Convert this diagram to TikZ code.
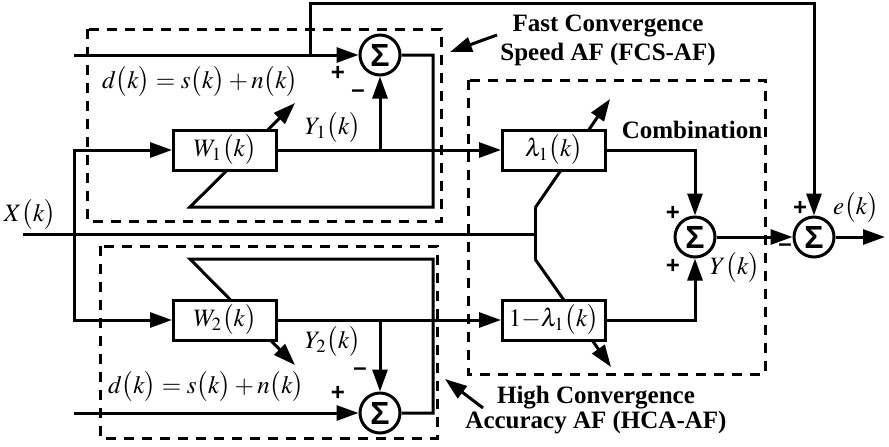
\documentclass[tikz,border=0pt]{standalone}
\usepackage{mathptmx}
\usepackage{fontspec}
\setmainfont{Liberation Serif}
\setsansfont{Liberation Sans}
\usetikzlibrary{positioning,arrows.meta}

\pgfdeclarelayer{wires}
\pgfsetlayers{wires,main}

\tikzset{
  block/.style={draw, fill=white, minimum width=51.5pt, minimum height=20pt, inner sep=0pt},
  adder/.style={circle, draw, fill=white, minimum size=20pt, inner sep=0pt,
                font=\fontsize{16}{16}\selectfont\sffamily\bfseries},
  sgn/.style={inner sep=0pt, font=\fontsize{12}{12}\selectfont\sffamily\bfseries},
  group/.style={draw, dash pattern=on 5pt off 4pt},
  tag/.style={inner sep=0pt, align=center, font=\fontsize{12.5}{14.5}\selectfont\bfseries},
}

\begin{document}
\begin{tikzpicture}[x=0.5pt, y=-0.5pt, line width=1.5pt,
    >={Triangle[length=11pt,width=7.5pt]}, node distance=63.5pt and 111.5pt,
    font=\fontsize{12.5}{15}\selectfont]
  \useasboundingbox (0,0) rectangle (889,446);

  % filters and combiner
  \node[block] (W1) at (225,150)    {$W_1\big(k\big)$};
  \node[block] (W2) [below=of W1]   {$W_2\big(k\big)$};
  \node[block] (L1) [right=of W1]   {$\lambda_1\big(k\big)$};
  \node[block] (L2) [right=of W2]   {$1{-}\lambda_1\big(k\big)$};

  \node[adder] (sA) at (380,55)  {Σ};
  \node[adder] (sB) at (380,413) {Σ};
  \node[adder] (sY) at (695,237) {Σ};
  \node[adder] (sE) at (814,237) {Σ};

  \coordinate (dA)   at (74,55);
  \coordinate (dB)   at (74,413);
  \coordinate (tapD) at (310,55);
  \coordinate (fb)   at (814,3);
  \coordinate (xin)  at (23,234);
  \coordinate (xs)   at (74,234);
  \coordinate (xj)   at (535,234);
  \coordinate (ju)   at (535,208);
  \coordinate (jd)   at (535,259);
  \coordinate (fbA)  at (433,207);
  \coordinate (adA)  at (190,207);
  \coordinate (tipA) at (295,103);
  \coordinate (fbB)  at (433,259);
  \coordinate (adB)  at (190,259);
  \coordinate (tipB) at (295,365);
  \coordinate (tipL) at (610,99);
  \coordinate (tipM) at (611,367);
  \coordinate (out)  at (885,237);

  % signal paths
  \draw[->] (dA) -- (sA);
  \draw[->] (dB) -- (sB);
  \draw[->] (tapD) |- (fb) -- (sE);
  \draw (xin) -- (xj);
  \draw[->] (xs) |- (W1);
  \draw[->] (xs) |- (W2);
  \draw[->] (W1) -- (L1);
  \draw[->] (W2) -- (L2);
  \draw[->] (sA |- W1.east) -- (sA);
  \draw[->] (sB |- W2.east) -- (sB);
  \draw[->] (L1) -| (sY);
  \draw[->] (L2) -| (sY);
  \draw[->] (sY) -- (sE);
  \draw[->] (sE) -- (out);

  % signs at the adders
  \node[sgn] (pA) at (338,73)  {+};
  \node[sgn] (mA) at (358,94)  {–};
  \node[sgn] (mB) at (360,372) {–};
  \node[sgn] (pB) at (338,393) {+};
  \node[sgn] (pY) at (673,213) {+};
  \node[sgn] (qY) at (673,266) {+};
  \node[sgn] (pE) at (800,208) {+};
  \node[sgn] (mE) at (785,248) {–};

  % signal names
  \node[anchor=west] (dtA) at (94,82)  {$d\big(k\big)=s\big(k\big)+n\big(k\big)$};
  \node[anchor=west] (dtB) at (100,387) {$d\big(k\big)=s\big(k\big)+n\big(k\big)$};
  \node[inner sep=0pt] (y1) at (333,128) {$Y_1\big(k\big)$};
  \node[inner sep=0pt] (y2) at (333,342) {$Y_2\big(k\big)$};
  \node (xk) at (30,215)  {$X\big(k\big)$};
  \node (yk) at (735,268) {$Y\big(k\big)$};
  \node (ek) at (856,208) {$e\big(k\big)$};

  % groups
  \draw[group] (87,29) rectangle (441,221);
  \draw[group] (100,246) rectangle (437,438);
  \draw[group] (468,80) rectangle (765,374);

  \node[tag] (fcs)  at (608,40)  {Fast Convergence\\Speed AF (FCS-AF)};
  \node[tag] (comb) at (692,130) {Combination};
  \node[tag] (hca)  at (596,410) {High Convergence\\[-2pt]Accuracy AF (HCA-AF)};
  \coordinate (fcsT) at (497,35);
  \coordinate (fcsH) at (450,52);
  \coordinate (hcaT) at (483,408);
  \coordinate (hcaH) at (445,379);
  \draw[->] (fcsT) -- (fcsH);
  \draw[->] (hcaT) -- (hcaH);

  % error feedback and weight updates, behind the blocks
  \begin{pgfonlayer}{wires}
  \begin{scope}[line width=1.5pt]
    \draw[->] (sA) -| (fbA) -- (adA) -- (tipA);
    \draw[->] (sB) -| (fbB) -- (adB) -- (tipB);
    \draw (ju) -- (jd);
    \draw[->] (ju) -- (tipL);
    \draw[->] (jd) -- (tipM);
  \end{scope}
  \end{pgfonlayer}
\end{tikzpicture}
\end{document}
